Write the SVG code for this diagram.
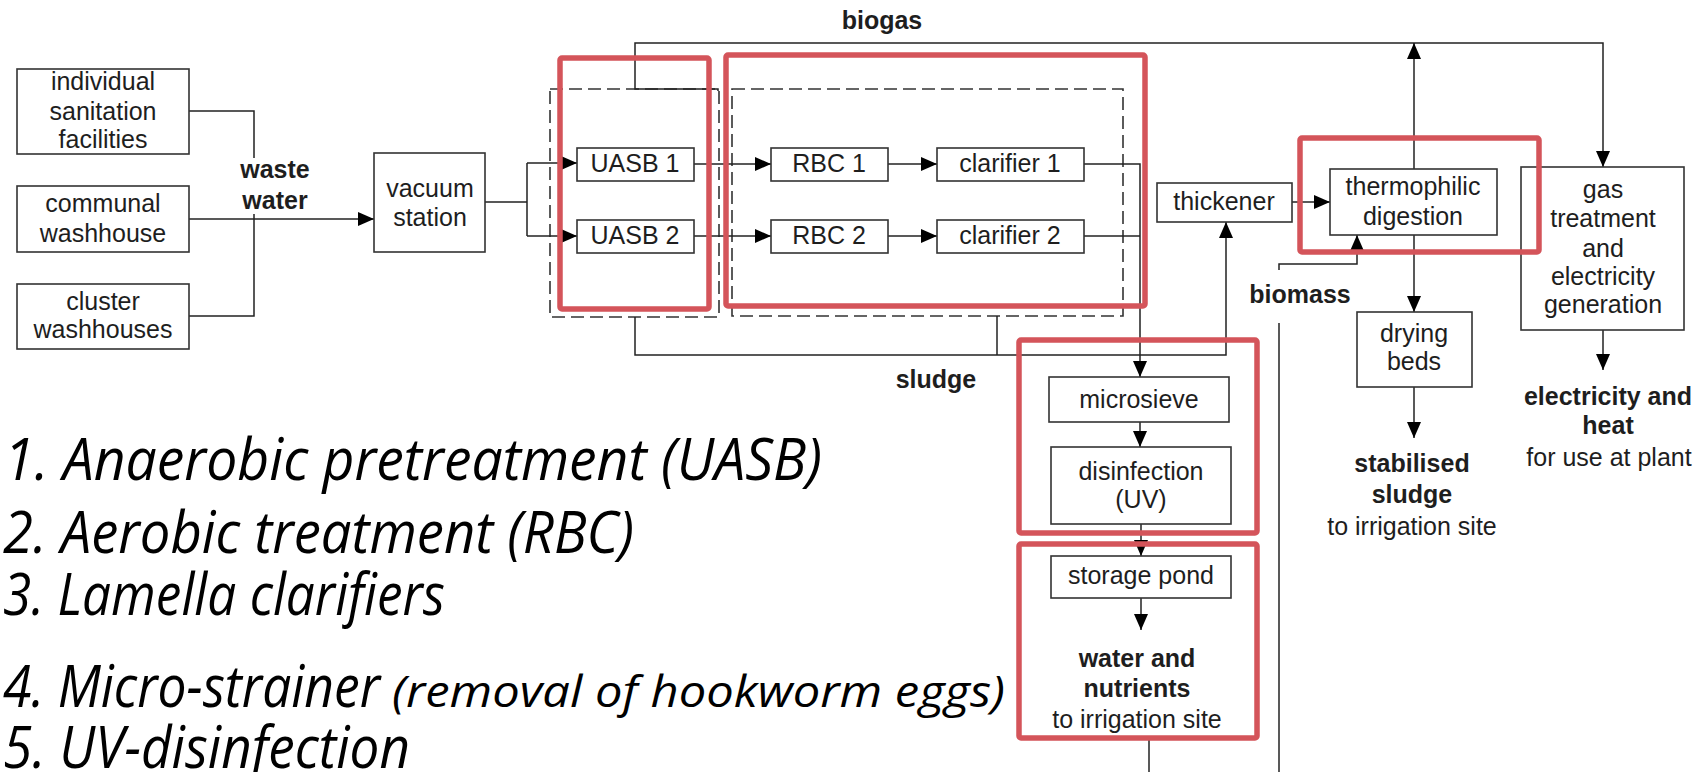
<svg xmlns="http://www.w3.org/2000/svg" width="1702" height="772" viewBox="0 0 1702 772">
<style>
.box{fill:#fff;stroke:#333;stroke-width:1.6}
.dash{fill:none;stroke:#333;stroke-width:1.6;stroke-dasharray:13 6}
.ln{fill:none;stroke:#222;stroke-width:1.5}
.arr{marker-end:url(#ah)}
.red{fill:none;stroke:#d4545a;stroke-width:5.5}
.t{font-family:"Liberation Sans",Arial,sans-serif;font-size:25px;fill:#1e1e1e;text-anchor:middle}
.b{font-weight:bold}
.it{font-family:"Open Sans","Noto Sans",sans-serif;font-style:italic;font-size:58px;fill:#000}
</style>
<defs>
<marker id="ah" markerUnits="userSpaceOnUse" markerWidth="17" markerHeight="15" refX="16" refY="7" orient="auto" viewBox="0 0 17 15">
<path d="M0,0 L16,7 L0,14 z" fill="#000"/>
</marker>
</defs>

<g id="dashed-groups">
<rect class="dash" x="550" y="89" width="169" height="228"/>
<rect class="dash" x="732" y="89" width="391" height="227"/>
</g>

<g id="connectors">
<path class="ln" d="M189,111 L254,111 L254,316 L189,316"/>
<path class="ln arr" d="M189,219 L374,219"/>
<path class="ln" d="M485,202 L527,202 M527,163 L527,236"/>
<path class="ln arr" d="M527,163 L577,163"/>
<path class="ln arr" d="M527,236 L577,236"/>
<path class="ln arr" d="M694,164 L771,164"/>
<path class="ln arr" d="M694,236 L771,236"/>
<path class="ln arr" d="M888,164 L937,164"/>
<path class="ln arr" d="M888,236 L937,236"/>
<path class="ln" d="M1084,236 L1140,236"/>
<path class="ln arr" d="M1084,164 L1140,164 L1140,377"/>
<path class="ln arr" d="M718,91 L718,89 L635,89 L635,43 L1603,43 L1603,167"/>
<path class="ln arr" d="M1414,169 L1414,43"/>
<path class="ln arr" d="M635,317 L635,355 L1226,355 L1226,222"/>
<path class="ln" d="M997,316 L997,355"/>
<path class="ln arr" d="M1292,202 L1330,202"/>
<path class="ln arr" d="M1279,270 L1279,264 L1357,264 L1357,235"/>
<path class="ln" d="M1279,323 L1279,772"/>
<path class="ln arr" d="M1414,235 L1414,312"/>
<path class="ln arr" d="M1414,387 L1414,438"/>
<path class="ln arr" d="M1603,330 L1603,370"/>
<path class="ln arr" d="M1140,422 L1140,447"/>
<path class="ln arr" d="M1141,524 L1141,556"/>
<path class="ln arr" d="M1141,598 L1141,630"/>
<path class="ln" d="M1149,737 L1149,772"/>
</g>

<g id="individual"><rect class="box" x="17" y="69" width="172" height="85"/>
<text class="t" x="103" y="90">individual</text><text class="t" x="103" y="120">sanitation</text><text class="t" x="103" y="148">facilities</text></g>
<g id="communal"><rect class="box" x="17" y="186" width="172" height="66"/>
<text class="t" x="103" y="212">communal</text><text class="t" x="103" y="242">washhouse</text></g>
<g id="cluster"><rect class="box" x="17" y="284" width="172" height="65"/>
<text class="t" x="103" y="310">cluster</text><text class="t" x="103" y="338">washhouses</text></g>
<g id="waste-water"><rect x="240" y="158" width="71" height="56" fill="#fff"/>
<text class="t b" x="275" y="178">waste</text><text class="t b" x="275" y="209">water</text></g>
<g id="vacuum"><rect class="box" x="374" y="153" width="111" height="99"/>
<text class="t" x="430" y="197">vacuum</text><text class="t" x="430" y="226">station</text></g>
<g id="uasb1"><rect class="box" x="577" y="148" width="117" height="33"/><text class="t" x="635" y="172">UASB 1</text></g>
<g id="uasb2"><rect class="box" x="577" y="220" width="117" height="33"/><text class="t" x="635" y="244">UASB 2</text></g>
<g id="rbc1"><rect class="box" x="771" y="148" width="117" height="33"/><text class="t" x="829" y="172">RBC 1</text></g>
<g id="rbc2"><rect class="box" x="771" y="220" width="117" height="33"/><text class="t" x="829" y="244">RBC 2</text></g>
<g id="clarifier1"><rect class="box" x="937" y="148" width="147" height="33"/><text class="t" x="1010" y="172">clarifier 1</text></g>
<g id="clarifier2"><rect class="box" x="937" y="220" width="147" height="33"/><text class="t" x="1010" y="244">clarifier 2</text></g>
<g id="biogas"><text class="t b" x="882" y="29">biogas</text></g>
<g id="sludge"><text class="t b" x="936" y="388">sludge</text></g>
<g id="thickener"><rect class="box" x="1157" y="183" width="135" height="39"/><text class="t" x="1224" y="210">thickener</text></g>
<g id="digestion"><rect class="box" x="1330" y="169" width="167" height="66"/>
<text class="t" x="1413" y="195">thermophilic</text><text class="t" x="1413" y="225">digestion</text></g>
<g id="biomass"><text class="t b" x="1300" y="303">biomass</text></g>
<g id="gas"><rect class="box" x="1521" y="167" width="163" height="163"/>
<text class="t" x="1603" y="198">gas</text><text class="t" x="1603" y="227">treatment</text><text class="t" x="1603" y="257">and</text><text class="t" x="1603" y="285">electricity</text><text class="t" x="1603" y="313">generation</text></g>
<g id="electricity-out"><text class="t b" x="1608" y="405">electricity and</text><text class="t b" x="1608" y="434">heat</text><text class="t" x="1609" y="466">for use at plant</text></g>
<g id="drying"><rect class="box" x="1357" y="312" width="115" height="75"/>
<text class="t" x="1414" y="342">drying</text><text class="t" x="1414" y="370">beds</text></g>
<g id="stabilised-out"><text class="t b" x="1412" y="472">stabilised</text><text class="t b" x="1412" y="503">sludge</text><text class="t" x="1412" y="535">to irrigation site</text></g>
<g id="microsieve"><rect class="box" x="1049" y="377" width="180" height="45"/><text class="t" x="1139" y="408">microsieve</text></g>
<g id="disinfection"><rect class="box" x="1051" y="447" width="180" height="77"/>
<text class="t" x="1141" y="480">disinfection</text><text class="t" x="1141" y="508">(UV)</text></g>
<g id="storage"><rect class="box" x="1051" y="556" width="180" height="42"/><text class="t" x="1141" y="584">storage pond</text></g>
<g id="water-out"><text class="t b" x="1137" y="667">water and</text><text class="t b" x="1137" y="697">nutrients</text><text class="t" x="1137" y="728">to irrigation site</text></g>

<g id="highlights">
<rect class="red" x="560" y="58" width="149" height="251" rx="2"/>
<rect class="red" x="726" y="55" width="419" height="251" rx="2"/>
<rect class="red" x="1300" y="138" width="239" height="114" rx="2"/>
<rect class="red" x="1019" y="340" width="238" height="193" rx="2"/>
<rect class="red" x="1019" y="544" width="238" height="194" rx="2"/>
</g>

<g id="legend">
<text class="it" x="4" y="480" textLength="818" lengthAdjust="spacingAndGlyphs">1. Anaerobic pretreatment (UASB)</text>
<text class="it" x="3" y="553" textLength="631" lengthAdjust="spacingAndGlyphs">2. Aerobic treatment (RBC)</text>
<text class="it" x="3" y="615" textLength="442" lengthAdjust="spacingAndGlyphs">3. Lamella clarifiers</text>
<text class="it" x="3" y="707" textLength="377" lengthAdjust="spacingAndGlyphs">4. Micro-strainer</text>
<text class="it" x="392" y="707" style="font-size:44px" textLength="613" lengthAdjust="spacingAndGlyphs">(removal of hookworm eggs)</text>
<text class="it" x="3" y="768" textLength="407" lengthAdjust="spacingAndGlyphs">5. UV-disinfection</text>
</g>
</svg>
